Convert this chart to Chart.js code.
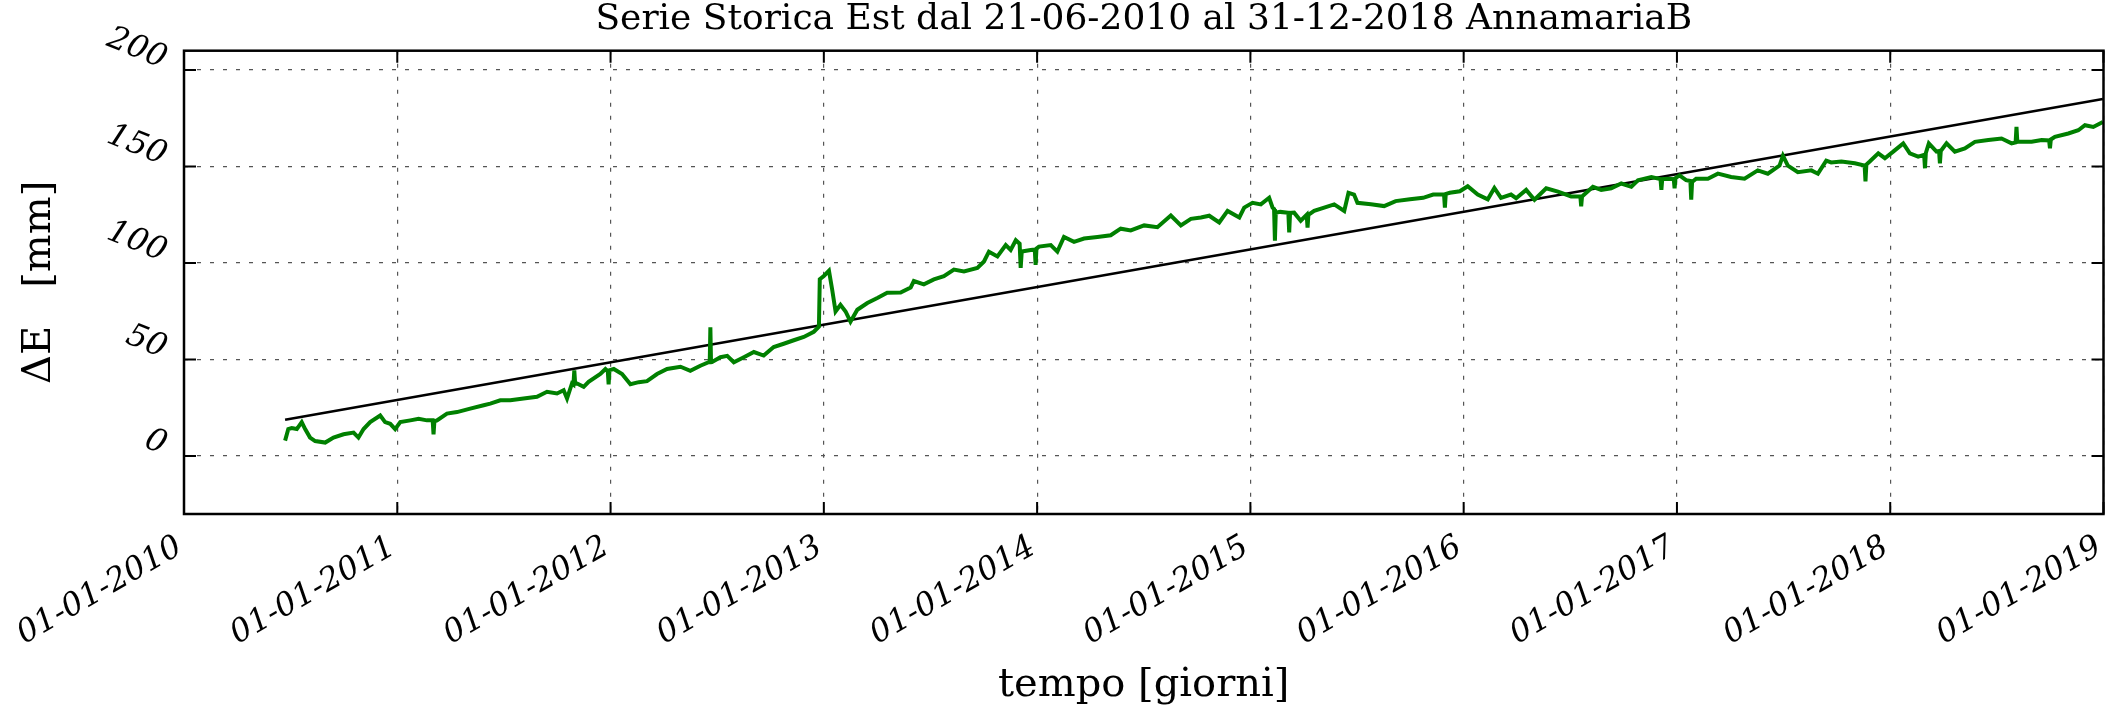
<!DOCTYPE html>
<html>
<head>
<meta charset="utf-8">
<script src="https://cdn.jsdelivr.net/npm/chart.js@4.4.1/dist/chart.umd.min.js"></script>
<style>
html,body{margin:0;padding:0;background:#fff;}
#wrap{width:2106px;height:711px;}
</style>
</head>
<body>
<div id="wrap"><canvas id="c" width="2106" height="711"></canvas></div>
<script>
// ---- data (time in decimal years, East displacement in mm) ----
const timeYears = [
  2010.474, 2010.489, 2010.505, 2010.529, 2010.552, 2010.568, 2010.591, 2010.615, 2010.662, 2010.701,
  2010.748, 2010.795, 2010.818, 2010.842, 2010.873, 2010.920, 2010.943, 2010.967, 2010.990, 2011.014,
  2011.061, 2011.100, 2011.139, 2011.166, 2011.170, 2011.174, 2011.186, 2011.233, 2011.280, 2011.342,
  2011.405, 2011.436, 2011.483, 2011.530, 2011.592, 2011.655, 2011.702, 2011.749, 2011.780, 2011.796,
  2011.819, 2011.826, 2011.830, 2011.834, 2011.843, 2011.874, 2011.897, 2011.952, 2011.976, 2011.987,
  2011.991, 2011.995, 2012.015, 2012.054, 2012.093, 2012.132, 2012.171, 2012.218, 2012.265, 2012.328,
  2012.374, 2012.421, 2012.460, 2012.465, 2012.468, 2012.471, 2012.476, 2012.515, 2012.547, 2012.578,
  2012.625, 2012.672, 2012.718, 2012.765, 2012.812, 2012.859, 2012.906, 2012.953, 2012.977, 2012.981,
  2013.000, 2013.024, 2013.039, 2013.055, 2013.078, 2013.102, 2013.125, 2013.157, 2013.204, 2013.251,
  2013.297, 2013.360, 2013.407, 2013.422, 2013.469, 2013.516, 2013.563, 2013.610, 2013.657, 2013.720,
  2013.751, 2013.774, 2013.814, 2013.853, 2013.876, 2013.900, 2013.918, 2013.923, 2013.928, 2013.970,
  2013.989, 2013.993, 2013.997, 2014.009, 2014.064, 2014.095, 2014.126, 2014.173, 2014.220, 2014.283,
  2014.345, 2014.392, 2014.439, 2014.502, 2014.564, 2014.627, 2014.674, 2014.721, 2014.768, 2014.807,
  2014.854, 2014.893, 2014.948, 2014.971, 2015.010, 2015.049, 2015.088, 2015.104, 2015.111, 2015.115,
  2015.119, 2015.140, 2015.178, 2015.182, 2015.186, 2015.205, 2015.236, 2015.264, 2015.268, 2015.272,
  2015.299, 2015.346, 2015.393, 2015.440, 2015.460, 2015.486, 2015.502, 2015.565, 2015.627, 2015.681,
  2015.748, 2015.810, 2015.857, 2015.908, 2015.912, 2015.916, 2015.935, 2015.982, 2016.019, 2016.066,
  2016.113, 2016.144, 2016.175, 2016.222, 2016.246, 2016.293, 2016.332, 2016.387, 2016.442, 2016.504,
  2016.547, 2016.551, 2016.555, 2016.606, 2016.645, 2016.692, 2016.739, 2016.786, 2016.817, 2016.880,
  2016.923, 2016.927, 2016.931, 2016.958, 2016.985, 2016.989, 2016.993, 2017.012, 2017.043, 2017.063,
  2017.067, 2017.071, 2017.090, 2017.145, 2017.192, 2017.254, 2017.317, 2017.379, 2017.426, 2017.481,
  2017.497, 2017.520, 2017.567, 2017.630, 2017.661, 2017.700, 2017.723, 2017.771, 2017.834, 2017.880,
  2017.884, 2017.888, 2017.904, 2017.944, 2017.975, 2018.014, 2018.061, 2018.092, 2018.131, 2018.159,
  2018.163, 2018.167, 2018.181, 2018.217, 2018.229, 2018.233, 2018.237, 2018.264, 2018.303, 2018.350,
  2018.397, 2018.460, 2018.522, 2018.569, 2018.588, 2018.592, 2018.596, 2018.630, 2018.663, 2018.710,
  2018.745, 2018.749, 2018.753, 2018.772, 2018.835, 2018.882, 2018.913, 2018.952, 2018.997
];
const eastMm = [
  8, 14, 14.5, 14, 17.6, 14, 9.6, 7.8, 7, 9.6,
  11.3, 12.2, 9.6, 14, 17.6, 21, 17.6, 16.7, 14, 17.6,
  18.5, 19.3, 18.5, 18.5, 11.3, 18, 18.5, 22, 22.8, 24.6,
  26.3, 27.2, 28.9, 28.9, 29.8, 30.7, 33.3, 32.4, 34.1, 29.8,
  37.6, 37, 44.4, 37.5, 37.6, 35.9, 38.5, 42.5, 45.1, 44,
  37.2, 44.5, 45.1, 42.5, 37.2, 38.3, 38.8, 42.5, 45.1, 46.3,
  44.2, 46.8, 48.6, 48.6, 66.7, 48.8, 48.8, 51.2, 51.9, 48.6,
  51.2, 53.9, 52.1, 56.5, 58.2, 60, 61.7, 64.4, 67, 91.6,
  93.3, 96, 86.3, 74.9, 78.4, 74.9, 69.6, 75.8, 79.3, 81.9,
  84.6, 84.7, 87.3, 90.7, 89, 91.5, 93.2, 96.6, 95.7, 97.5,
  100.8, 105.9, 103.4, 109.3, 106.8, 111.8, 110, 97.5, 106, 106.8,
  107, 99.1, 107.5, 108.5, 109.3, 105.9, 113.5, 111, 112.7, 113.5,
  114.4, 117.8, 116.9, 119.5, 118.6, 124.6, 119.5, 122.9, 123.6, 124.5,
  121, 127, 123.6, 128.7, 131.2, 130.4, 133.8, 128.7, 128, 111.6,
  126.1, 126.5, 126, 115.9, 126, 126.1, 121.9, 125, 118.4, 125,
  127, 128.7, 130.4, 127, 136.4, 135.5, 131.2, 130.4, 129.5, 132.1,
  133, 133.8, 135.5, 135.5, 128.7, 135.8, 136.4, 137.2, 139.8, 135.5,
  133, 138.9, 133.8, 135.5, 133.6, 137.9, 132.8, 138.7, 137, 134.5,
  134.5, 129.4, 134.5, 139.5, 137.9, 138.7, 141.2, 139.5, 142.9, 144.6,
  143.5, 137.9, 143.5, 143.7, 143.5, 138.7, 144, 145.4, 142.9, 142.5,
  132.8, 142, 143.7, 143.7, 146.3, 144.6, 143.7, 148, 146.3, 150.5,
  155.6, 150.5, 147.1, 148, 146.3, 153, 152.1, 152.6, 151.7, 150.5,
  142.3, 151, 152.6, 156.8, 154.3, 157.7, 162, 156.8, 155.1, 156,
  149.1, 157, 162, 157.7, 158, 151.7, 158, 162, 157.7, 159.4,
  162.8, 163.7, 164.5, 162, 162.5, 170.5, 162.8, 162.8, 162.8, 163.7,
  163.5, 159.4, 164, 165.4, 167.1, 168.8, 171.4, 170.5, 173.1
];
// linear trend line (start / end)
const trendYears = [2010.474, 2018.997];
const trendMm = [18.8, 185];
// axes
const xTickYears = [2010, 2011, 2012, 2013, 2014, 2015, 2016, 2017, 2018, 2019];
const yTickValues = [0, 50, 100, 150, 200];
const titleText = 'Serie Storica Est dal 21-06-2010 al 31-12-2018 AnnamariaB';
const xLabel = 'tempo [giorni]';
const yLabel = 'ΔE\u00a0\u00a0\u00a0[mm]';

const SERIF = '"DejaVu Serif", serif';
const fmtX = v => '01-01-' + v;

const framePlugin = {
  id: 'frameTicks',
  afterDraw(chart) {
    const {ctx, chartArea: a, scales} = chart;
    const xs = scales.x, ys = scales.y;
    ctx.save();
    ctx.strokeStyle = '#000';
    ctx.lineWidth = 2;
    const L = 12;
    ctx.beginPath();
    xs.ticks.forEach(t => {
      const px = xs.getPixelForValue(t.value);
      ctx.moveTo(px, a.bottom); ctx.lineTo(px, a.bottom - L);
      ctx.moveTo(px, a.top); ctx.lineTo(px, a.top + L);
    });
    ys.ticks.forEach(t => {
      const py = ys.getPixelForValue(t.value);
      ctx.moveTo(a.left, py); ctx.lineTo(a.left + L, py);
      ctx.moveTo(a.right, py); ctx.lineTo(a.right - L, py);
    });
    ctx.stroke();
    ctx.lineWidth = 2.5;
    ctx.strokeRect(a.left, a.top, a.right - a.left, a.bottom - a.top);

    ctx.fillStyle = '#000';
    ctx.font = 'italic 32px ' + SERIF;
    ctx.textAlign = 'right';
    ctx.textBaseline = 'alphabetic';
    // rotated y tick labels
    ys.ticks.forEach(t => {
      const py = ys.getPixelForValue(t.value);
      ctx.save();
      ctx.translate(a.left - 22, py - 2);
      ctx.rotate(22 * Math.PI / 180);
      ctx.fillText(String(t.value), 0, 0);
      ctx.restore();
    });
    // rotated x tick labels (right end anchored under the tick)
    xs.ticks.forEach(t => {
      const px = xs.getPixelForValue(t.value);
      ctx.save();
      ctx.translate(px, a.bottom + 38);
      ctx.rotate(-30 * Math.PI / 180);
      ctx.fillText(fmtX(t.value), 0, 0);
      ctx.restore();
    });
    ctx.restore();
  }
};

const gridStyle = { color: '#555', lineWidth: 1.2, drawTicks: false };

new Chart(document.getElementById('c'), {
  type: 'line',
  data: {
    datasets: [
      {
        label: 'Est',
        data: timeYears.map((t, i) => ({x: t, y: eastMm[i]})),
        borderColor: '#008000',
        borderWidth: 4,
        pointRadius: 0,
        tension: 0,
        fill: false
      },
      {
        label: 'trend',
        data: trendYears.map((t, i) => ({x: t, y: trendMm[i]})),
        borderColor: '#000',
        borderWidth: 2.5,
        pointRadius: 0,
        tension: 0,
        fill: false
      }
    ]
  },
  options: {
    responsive: false,
    animation: false,
    devicePixelRatio: 1,
    layout: { padding: { left: 0, right: 2.5, top: 0, bottom: 0 } },
    plugins: {
      legend: { display: false },
      tooltip: { enabled: false },
      title: {
        display: true,
        text: titleText,
        fullSize: false,
        color: '#000',
        font: { family: SERIF, size: 36, weight: 'normal', lineHeight: 1 },
        padding: { top: 2, bottom: 12.7 }
      }
    },
    scales: {
      x: {
        type: 'linear',
        min: 2010,
        max: 2019,
        afterBuildTicks: s => { s.ticks = xTickYears.map(v => ({value: v})); },
        afterFit: s => { s.height = 711 - 514; s.paddingLeft = 0; s.paddingRight = 0; },
        ticks: { display: false, callback: fmtX },
        grid: gridStyle,
        border: { display: false, dash: [4, 9] },
        title: {
          display: true,
          text: xLabel,
          color: '#000',
          font: { family: SERIF, size: 40, lineHeight: 1.2 },
          padding: { top: 0, bottom: 1 }
        }
      },
      y: {
        type: 'linear',
        min: -30,
        max: 210,
        afterBuildTicks: s => { s.ticks = yTickValues.map(v => ({value: v})); },
        afterFit: s => { s.width = 184; },
        ticks: { display: false },
        grid: gridStyle,
        border: { display: false, dash: [4, 9] },
        title: {
          display: true,
          text: yLabel,
          color: '#000',
          font: { family: SERIF, size: 40, lineHeight: 1.2 },
          padding: { top: 16, bottom: 0 }
        }
      }
    }
  },
  plugins: [framePlugin]
});
</script>
</body>
</html>
